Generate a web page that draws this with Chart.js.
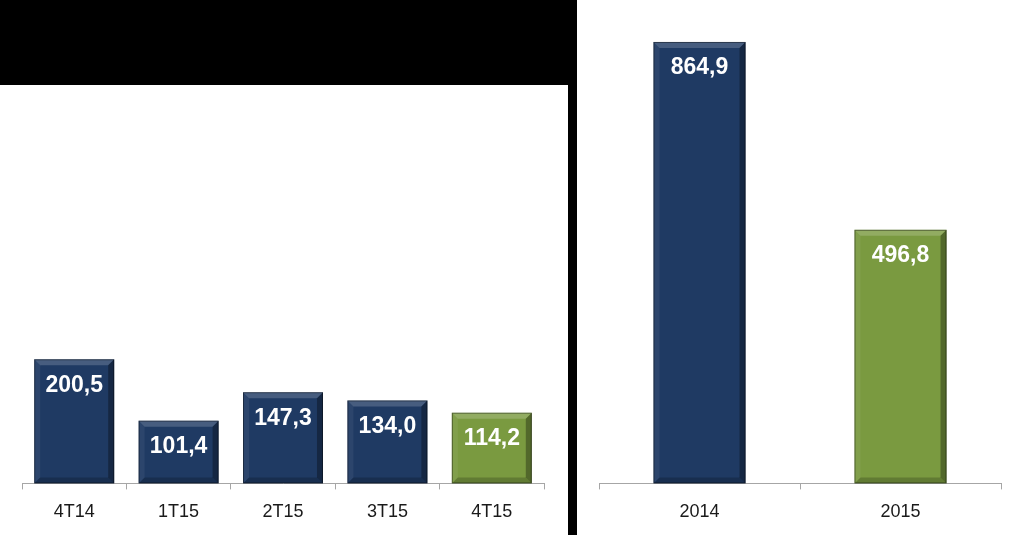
<!DOCTYPE html>
<html>
<head>
<meta charset="utf-8">
<script src="https://cdn.jsdelivr.net/npm/chart.js@4"></script>
<style>
  body { margin: 0; background: #ffffff; width: 1023px; height: 535px; overflow: hidden; position: relative; }
  #band { position: absolute; left: 0; top: 0; width: 577px; height: 85px; background: #000; }
  #divider { position: absolute; left: 568px; top: 0; width: 9px; height: 535px; background: #000; }
  #left-wrap { position: absolute; left: 0; top: 85px; width: 568px; height: 450px; }
  #right-wrap { position: absolute; left: 577px; top: 0; width: 446px; height: 535px; }
</style>
</head>
<body>
<div id="band"></div>
<div id="divider"></div>
<div id="left-wrap"><canvas id="quarterChart"></canvas></div>
<div id="right-wrap"><canvas id="yearChart"></canvas></div>
<script>
//data
const quarterLabels = ['4T14', '1T15', '2T15', '3T15', '4T15'];
const quarterValues = [200.5, 101.4, 147.3, 134.0, 114.2];

const yearLabels = ['2014', '2015'];
const yearValues = [864.9, 496.8];

//colors
const navy = '#1f3a63';
const green = '#7a9a40';

Chart.defaults.font.family = "'Liberation Sans', Arial, sans-serif";
Chart.defaults.animation = false;

// last bar of each chart is green
function barColor(ctx) {
  return ctx.dataIndex === ctx.dataset.data.length - 1 ? green : navy;
}

function formatValue(v) {
  return v.toFixed(1).replace('.', ',');
}

// bevel look + value label inside top of the bar
const bevelPlugin = {
  id: 'bevel',
  afterDatasetsDraw(chart) {
    const ctx = chart.ctx;
    const meta = chart.getDatasetMeta(0);
    const data = chart.data.datasets[0].data;
    meta.data.forEach((bar, i) => {
      const l = bar.x - bar.width / 2;
      const r = bar.x + bar.width / 2;
      const t = bar.y;
      const b = bar.base;
      const s = 6;
      ctx.save();
      // top
      ctx.fillStyle = 'rgba(255,255,255,0.18)';
      ctx.beginPath();
      ctx.moveTo(l, t); ctx.lineTo(r, t); ctx.lineTo(r - s, t + s); ctx.lineTo(l + s, t + s);
      ctx.closePath(); ctx.fill();
      // left
      ctx.fillStyle = 'rgba(255,255,255,0.06)';
      ctx.beginPath();
      ctx.moveTo(l, t); ctx.lineTo(l + s, t + s); ctx.lineTo(l + s, b - s); ctx.lineTo(l, b);
      ctx.closePath(); ctx.fill();
      // right
      ctx.fillStyle = 'rgba(0,0,0,0.32)';
      ctx.beginPath();
      ctx.moveTo(r, t); ctx.lineTo(r - s, t + s); ctx.lineTo(r - s, b - s); ctx.lineTo(r, b);
      ctx.closePath(); ctx.fill();
      // bottom
      ctx.fillStyle = 'rgba(0,0,0,0.2)';
      ctx.beginPath();
      ctx.moveTo(l, b); ctx.lineTo(l + s, b - s); ctx.lineTo(r - s, b - s); ctx.lineTo(r, b);
      ctx.closePath(); ctx.fill();
      // outline
      ctx.strokeStyle = 'rgba(0,0,0,0.4)';
      ctx.lineWidth = 1;
      ctx.strokeRect(l + 0.5, t + 0.5, bar.width - 1, b - t - 1);

      ctx.fillStyle = '#ffffff';
      ctx.font = "bold 23px 'Liberation Sans', Arial, sans-serif";
      ctx.textAlign = 'center';
      ctx.textBaseline = 'middle';
      ctx.fillText(formatValue(data[i]), bar.x, t + 26);
      ctx.restore();
    });
  }
};

function barOptions(maxValue, padding, catPct) {
  return {
    responsive: true,
    maintainAspectRatio: false,
    layout: { padding },
    plugins: {
      legend: { display: false },
      tooltip: { enabled: false }
    },
    datasets: {
      bar: { barPercentage: 1, categoryPercentage: catPct }
    },
    scales: {
      x: {
        offset: true,
        grid: {
          offset: true,
          drawOnChartArea: false,
          drawTicks: true,
          tickLength: 6,
          color: '#a6a6a6'
        },
        border: { display: true, color: '#a6a6a6', width: 1 },
        ticks: {
          color: '#1a1a1a',
          font: { size: 18 },
          padding: 12
        }
      },
      y: {
        display: false,
        min: 0,
        max: maxValue
      }
    }
  };
}

const quarterCanvas = document.getElementById('quarterChart');
const yearCanvas = document.getElementById('yearChart');

new Chart(quarterCanvas, {
  type: 'bar',
  data: {
    labels: quarterLabels,
    datasets: [{
      data: quarterValues,
      backgroundColor: barColor,
      borderWidth: 0
    }]
  },
  options: barOptions(600, { top: 27, left: 22, right: 24, bottom: 0 }, 0.766),
  plugins: [bevelPlugin]
});

new Chart(yearCanvas, {
  type: 'bar',
  data: {
    labels: yearLabels,
    datasets: [{
      data: yearValues,
      backgroundColor: barColor,
      borderWidth: 0
    }]
  },
  options: barOptions(900, { top: 24, left: 22, right: 22, bottom: 0 }, 0.458),
  plugins: [bevelPlugin]
});
</script>
</body>
</html>
